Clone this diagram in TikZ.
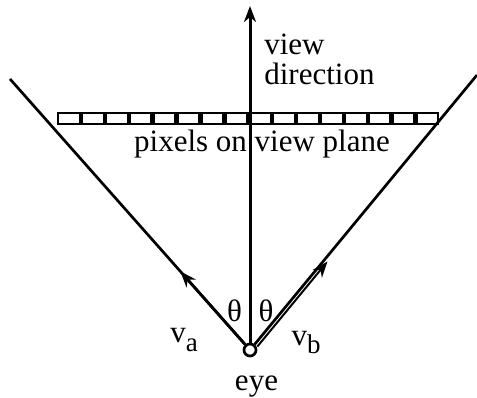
\documentclass[tikz,border=0pt]{standalone}
\usepackage{fontspec}
\setmainfont{Liberation Serif}
\usetikzlibrary{arrows.meta,calc}

\begin{document}
\begin{tikzpicture}[x=1pt, y=-1pt, line width=2.7pt,
    >={Stealth[length=16pt,width=12pt,inset=5pt]},
    font=\fontsize{31}{30}\selectfont,
    pixel/.style={draw, line width=2.2pt, minimum width=21.7pt, minimum height=10.8pt, inner sep=0pt},
    lbl/.style={anchor=base, inner sep=0pt}]
  \useasboundingbox (0,0) rectangle (477,398);
  \node[circle, draw, minimum size=12pt, inner sep=0pt] (eye) at (250,350) {};
  \coordinate (topl) at (10,79);
  \coordinate (topr) at (477,75);
  \coordinate (up) at (250,6);
  \draw (eye) -- (topl);
  \draw (eye) -- (topr);
  \draw[->, line width=3pt] (eye) -- (up);
  % the pixels
  \foreach \i in {0,...,15}
    \node[pixel] (px\i) at (68.95+23.9*\i, 118.5) {};
  % the two vectors
  \coordinate (va) at ($(eye.center)!0.29!(topl)$);
  \coordinate (vb) at ($(eye.center)!0.33!(topr)$);
  \draw[->] (eye) -- (va);
  \draw[->, line width=2pt] ([shift={(2.6,2.2)}]eye.50) -- ([shift={(2.6,2.2)}]vb);
  % labels
  \node[lbl] (tha) at (234.5,322) {θ};
  \node[lbl] (thb) at (266,322) {θ};
  \node[lbl] (lbla) at (184,343) {v\raisebox{-8.5pt}{\fontsize{27}{27}\selectfont a}};
  \node[lbl] (lblb) at (306,345) {v\raisebox{-8.5pt}{\fontsize{27}{27}\selectfont b}};
  \node[lbl] (eyelbl) at (256.5,390) {eye};
  \node[lbl] (planelbl) at (262,152) {pixels on view plane};
  \node[anchor=north west, align=left, inner sep=0pt] (dirlbl) at (263,33) {view\\direction};
\end{tikzpicture}
\end{document}
